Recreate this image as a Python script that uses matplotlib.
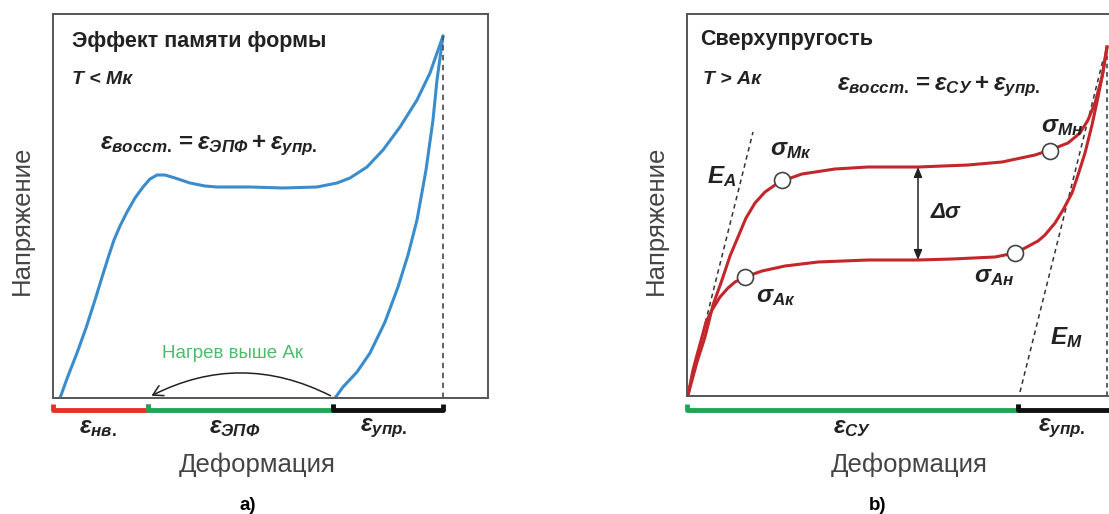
import numpy as np
import matplotlib
matplotlib.use('Agg')
from matplotlib import pyplot as plt
from matplotlib.patches import FancyArrowPatch

plt.rcParams['font.family'] = ['Liberation Sans', 'DejaVu Sans']
plt.rcParams['mathtext.fontset'] = 'custom'
plt.rcParams['mathtext.it'] = 'Liberation Sans:italic:bold'
plt.rcParams['mathtext.rm'] = 'Liberation Sans:bold'
plt.rcParams['mathtext.bf'] = 'Liberation Sans:bold'

############################################
############  data (panel a) ###############
############################################
# units: strain / stress, arbitrary
load_a_x = [7, 15, 24, 33, 42, 50, 56, 61, 67, 74, 82, 90, 97, 104, 112, 122,
            137, 152, 164, 197, 230, 264, 284, 297, 314, 330, 347, 364, 377,
            390]
load_a_y = [0, 22, 45, 70, 98, 124, 143, 158, 172, 186, 200, 211, 219, 223,
            223, 220, 215, 212, 211, 211, 210, 211, 215, 220, 231, 248, 271,
            298, 325, 362]
unload_a_x = [390, 384, 380, 373, 364, 355, 345, 332, 317, 304, 290, 282]
unload_a_y = [362, 318, 278, 228, 178, 143, 111, 76, 45, 26, 11, 0]

max_strain_a = 390
segments_a = [(0, 95, '#e8302a'), (95, 280, '#1ea653'), (280, 390, '#111111')]
seg_labels_a = [r'$ε_{нв.}$', r'$ε_{ЭПФ}$', r'$ε_{упр.}$']
seg_label_x_a = [45, 182, 331]

############################################
############  data (panel b) ###############
############################################
load_b_x = [1, 10, 18, 26, 35, 43, 51, 59, 68, 78, 88, 95, 115, 148, 181, 231,
            281, 315, 348, 363, 381, 393, 401, 408, 415, 420]
load_b_y = [1, 34, 59, 91, 116, 140, 159, 178, 193, 204, 211, 215, 222, 227,
            229, 229, 231, 234, 241, 246, 253, 263, 276, 293, 319, 349]
unload_b_x = [420, 416, 411, 405, 398, 391, 385, 376, 368, 358, 351, 338, 328,
              308, 265, 231, 181, 131, 98, 75, 58, 48, 41, 33, 25, 19, 15, 10,
              6, 1]
unload_b_y = [349, 324, 299, 271, 243, 221, 203, 186, 173, 161, 155, 148, 143,
              139, 137, 136, 136, 134, 130, 125, 119, 114, 108, 99, 86, 74, 59,
              41, 26, 1]

points_b_x = [95, 363, 328, 58]
points_b_y = [216, 245, 143, 119]
point_labels = [r'$σ_{Мк}$', r'$σ_{Мн}$', r'$σ_{Ан}$', r'$σ_{Ак}$']
point_label_xy = [(104, 246), (375, 269), (307, 119), (89, 99)]

EA_x = [0, 66]
EA_y = [0, 264]
EM_x = [333, 416]
EM_y = [4, 336]
max_strain_b = 420
segments_b = [(0, 331, '#1ea653'), (331, 430, '#111111')]
seg_labels_b = [r'$ε_{СУ}$', r'$ε_{упр.}$']
seg_label_x_b = [165, 375]

W, H = 1109, 514
fig = plt.figure(figsize=(W / 100, H / 100), dpi=100)

ax1 = fig.add_axes([53 / W, (H - 398) / H, 435 / W, 384 / H])
ax2 = fig.add_axes([687 / W, (H - 396) / H, 425 / W, 382 / H])
ax1.set_xlim(0, 435)
ax1.set_ylim(0, 384)
ax2.set_xlim(0, 425)
ax2.set_ylim(0, 382)
for ax in (ax1, ax2):
    ax.set_xticks([])
    ax.set_yticks([])
    for s in ax.spines.values():
        s.set_color('#555555')
        s.set_linewidth(1.4)

dash = (0, (3, 2.5))

# ---------- panel a ----------
ax1.plot(load_a_x, load_a_y, color='#3a8ccc', lw=2.2, solid_joinstyle='round',
         solid_capstyle='round')
ax1.plot(unload_a_x, unload_a_y, color='#3a8ccc', lw=2.2,
         solid_joinstyle='round', solid_capstyle='round')
ax1.plot([max_strain_a, max_strain_a], [0, 362], color='#555555', lw=1.3,
         ls=dash)

arr = FancyArrowPatch((280, 1), (96, 1), connectionstyle='arc3,rad=0.26',
                      arrowstyle='->,head_length=7,head_width=4',
                      color='#222222', lw=1.1)
ax1.add_patch(arr)
ax1.text(180, 45, 'Нагрев выше Ак', color='#4dbb6e', fontsize=13.5,
         ha='center', va='center')

ax1.text(19, 356, 'Эффект памяти формы', fontsize=15.5, fontweight='bold',
         ha='left', va='center', color='#222222')
ax1.text(19, 318, 'T < Мк', fontsize=14, fontweight='bold', style='italic',
         ha='left', va='center', color='#222222')
ax1.text(47, 252, r'$ε_{восст.} = ε_{ЭПФ} + ε_{упр.}$', fontsize=17.5,
         ha='left', va='center', color='#222222')

for (x0, x1, c) in segments_a:
    ax1.plot([x0, x0, x1, x1], [-6, -12, -12, -6], color=c, lw=3.5,
             clip_on=False, solid_joinstyle='round', solid_capstyle='butt')
for lab, lx in zip(seg_labels_a, seg_label_x_a):
    ax1.text(lx, -30, lab, fontsize=17.5, ha='center', va='center',
             color='#222222')
ax1.text(204, -67, 'Деформация', fontsize=18.5, ha='center', va='center',
         color='#444444')
ax1.text(-31, 178, 'Напряжение', fontsize=18.5, ha='center', va='center',
         rotation=90, color='#444444')
ax1.text(195, -107, 'a)', fontsize=13.5, fontweight='bold', ha='center',
         va='center')

# ---------- panel b ----------
ax2.plot(EA_x, EA_y, color='#333333', lw=1.1, ls=dash)
ax2.plot(EM_x, EM_y, color='#333333', lw=1.1, ls=dash)
ax2.plot([max_strain_b, max_strain_b], [0, 349], color='#333333', lw=1.1,
         ls=dash)
ax2.plot(load_b_x, load_b_y, color='#c3262b', lw=2.2, solid_joinstyle='round')
ax2.plot(unload_b_x, unload_b_y, color='#c3262b', lw=2.2,
         solid_joinstyle='round')
ax2.plot(points_b_x, points_b_y, ls='none', marker='o', ms=11.5,
         mfc='white', mec='#444444', mew=1.2, zorder=5)
for lab, (lx, ly) in zip(point_labels, point_label_xy):
    ax2.text(lx, ly, lab, fontsize=17.5, ha='center', va='center',
             color='#222222')

ax2.annotate('', xy=(231, 229), xytext=(231, 136),
             arrowprops=dict(arrowstyle='<|-|>,head_length=0.6,head_width=0.25',
                             color='#222222', lw=1.1, shrinkA=0, shrinkB=0))
ax2.text(244, 183, 'Δσ', fontsize=16, fontweight='bold', style='italic',
         ha='left', va='center', color='#222222')
ax2.text(35, 219, r'$E_{A}$', fontsize=17.5, ha='center', va='center',
         color='#222222')
ax2.text(379, 58, r'$E_{M}$', fontsize=17.5, ha='center', va='center',
         color='#222222')

ax2.text(13, 356, 'Сверхупругость', fontsize=15.5, fontweight='bold',
         ha='left', va='center', color='#222222')
ax2.text(16, 316, 'T > Ак', fontsize=14, fontweight='bold', style='italic',
         ha='left', va='center', color='#222222')
ax2.text(150, 309, r'$ε_{восст.} = ε_{СУ} + ε_{упр.}$', fontsize=17.5,
         ha='left', va='center', color='#222222')

for (x0, x1, c) in segments_b:
    ax2.plot([x0, x0, x1, x1], [-8, -14, -14, -8], color=c, lw=3.5,
             clip_on=False, solid_joinstyle='round', solid_capstyle='butt')
for lab, lx in zip(seg_labels_b, seg_label_x_b):
    ax2.text(lx, -32, lab, fontsize=17.5, ha='center', va='center',
             color='#222222')
ax2.text(222, -69, 'Деформация', fontsize=18.5, ha='center', va='center',
         color='#444444')
ax2.text(-31, 176, 'Напряжение', fontsize=18.5, ha='center', va='center',
         rotation=90, color='#444444')
ax2.text(191, -109, 'b)', fontsize=13.5, fontweight='bold', ha='center',
         va='center')

fig.savefig('out.png', dpi=100)
